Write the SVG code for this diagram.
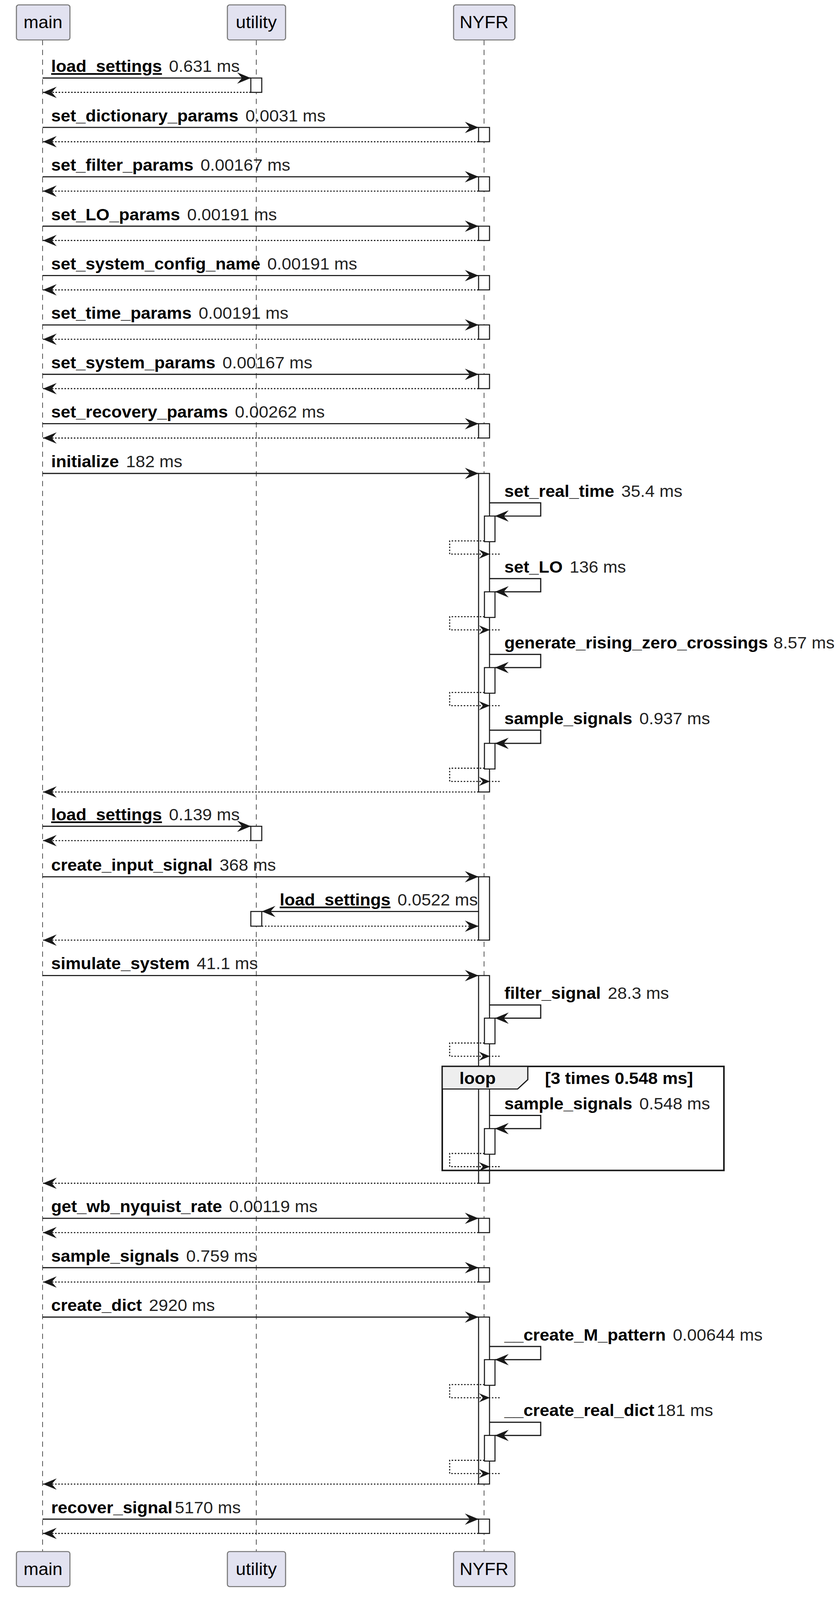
<svg xmlns="http://www.w3.org/2000/svg" width="2145" height="4250" viewBox="0 0 2145 4250">
<style>
.part{fill:#E2E2F0;stroke:#777;stroke-width:2.7}
.pt{font-family:"Liberation Sans",Arial,sans-serif;font-size:46px;fill:#000;text-anchor:middle}
.life{stroke:#555;stroke-width:2;stroke-dasharray:14,12;fill:none}
.act{fill:#fff;stroke:#181818;stroke-width:2.7}
.msg{stroke:#181818;stroke-width:3;fill:none}
.ret{stroke:#181818;stroke-width:2.7;stroke-dasharray:4,4;fill:none}
.lb{font-family:"Liberation Sans",Arial,sans-serif;font-size:44px;fill:#000}
.tm{fill:#222}
.b{font-weight:bold}
.u{text-decoration:underline}
.head{fill:#181818}
</style>
<defs>
<marker id="ah" markerUnits="userSpaceOnUse" markerWidth="40" markerHeight="40" viewBox="-30 -15 32 30" refX="0" refY="0" orient="auto">
<path d="M0,0 L-28,-12 L-18,0 L-28,12 Z" fill="#181818"/>
</marker>
</defs>
<rect width="2145" height="4250" fill="#fff"/>
<g transform="scale(1,0.965)">
<g id="lifelines">
<line class="life" x1="109" y1="106" x2="109" y2="4116"/>
<line class="life" x1="656" y1="106" x2="656" y2="4116"/>
<line class="life" x1="1239" y1="106" x2="1239" y2="4116"/>
</g>
<g id="main"><rect class="part" x="42" y="13" width="137" height="93" rx="6"/><text class="pt" x="110" y="75">main</text>
<rect class="part" x="42" y="4116" width="137" height="93" rx="6"/><text class="pt" x="110" y="4178">main</text></g>
<g id="utility"><rect class="part" x="582" y="13" width="149" height="93" rx="6"/><text class="pt" x="656" y="75">utility</text>
<rect class="part" x="582" y="4116" width="149" height="93" rx="6"/><text class="pt" x="656" y="4178">utility</text></g>
<g id="NYFR"><rect class="part" x="1161" y="13" width="157" height="93" rx="6"/><text class="pt" x="1239" y="75">NYFR</text>
<rect class="part" x="1161" y="4116" width="157" height="93" rx="6"/><text class="pt" x="1239" y="4178">NYFR</text></g>
<g id="activations">
<rect class="act" x="642" y="207" width="28" height="38"/>
<rect class="act" x="1225" y="338" width="28" height="38"/>
<rect class="act" x="1225" y="469" width="28" height="38"/>
<rect class="act" x="1225" y="600" width="28" height="38"/>
<rect class="act" x="1225" y="731" width="28" height="38"/>
<rect class="act" x="1225" y="862" width="28" height="38"/>
<rect class="act" x="1225" y="993" width="28" height="38"/>
<rect class="act" x="1225" y="1124" width="28" height="38"/>
<rect class="act" x="1225" y="1256" width="28" height="845"/>
<rect class="act" x="1240" y="1369" width="27" height="68"/>
<rect class="act" x="1240" y="1570" width="27" height="68"/>
<rect class="act" x="1240" y="1771" width="27" height="68"/>
<rect class="act" x="1240" y="1972" width="27" height="68"/>
<rect class="act" x="642" y="2192" width="28" height="38"/>
<rect class="act" x="1225" y="2326" width="28" height="168"/>
<rect class="act" x="642" y="2418" width="28" height="39"/>
<rect class="act" x="1225" y="2588" width="28" height="551"/>
<rect class="act" x="1240" y="2701" width="27" height="68"/>
<rect class="act" x="1240" y="2994" width="27" height="68"/>
<rect class="act" x="1225" y="3232" width="28" height="38"/>
<rect class="act" x="1225" y="3363" width="28" height="38"/>
<rect class="act" x="1225" y="3494" width="28" height="443"/>
<rect class="act" x="1240" y="3607" width="27" height="68"/>
<rect class="act" x="1240" y="3808" width="27" height="68"/>
<rect class="act" x="1225" y="4030" width="28" height="38"/>
</g>
<g id="loop">
<rect x="1132" y="2829" width="721" height="276" fill="none" stroke="#181818" stroke-width="4"/>
<path d="M1132,2829 H1351 V2864 L1325,2889 H1132 Z" fill="#EEEEEE" stroke="#181818" stroke-width="3"/>
<text class="lb b" x="1176" y="2876">loop</text>
<text class="lb b" x="1395" y="2876">[3 times  0.548 ms]</text>
</g>
<g id="connectors">
<path class="msg" d="M109,207 H642" marker-end="url(#ah)"/><path class="ret" d="M642,245 H110" marker-end="url(#ah)"/>
<path class="msg" d="M109,338 H1225" marker-end="url(#ah)"/><path class="ret" d="M1225,376 H110" marker-end="url(#ah)"/>
<path class="msg" d="M109,469 H1225" marker-end="url(#ah)"/><path class="ret" d="M1225,507 H110" marker-end="url(#ah)"/>
<path class="msg" d="M109,600 H1225" marker-end="url(#ah)"/><path class="ret" d="M1225,638 H110" marker-end="url(#ah)"/>
<path class="msg" d="M109,731 H1225" marker-end="url(#ah)"/><path class="ret" d="M1225,769 H110" marker-end="url(#ah)"/>
<path class="msg" d="M109,862 H1225" marker-end="url(#ah)"/><path class="ret" d="M1225,900 H110" marker-end="url(#ah)"/>
<path class="msg" d="M109,993 H1225" marker-end="url(#ah)"/><path class="ret" d="M1225,1031 H110" marker-end="url(#ah)"/>
<path class="msg" d="M109,1124 H1225" marker-end="url(#ah)"/><path class="ret" d="M1225,1162 H110" marker-end="url(#ah)"/>
<path class="msg" d="M109,1256 H1225" marker-end="url(#ah)"/><path class="ret" d="M1225,2101 H110" marker-end="url(#ah)"/>
<path class="msg" d="M109,2192 H642" marker-end="url(#ah)"/><path class="ret" d="M642,2230 H110" marker-end="url(#ah)"/>
<path class="msg" d="M109,2326 H1225" marker-end="url(#ah)"/><path class="ret" d="M1225,2494 H110" marker-end="url(#ah)"/>
<path class="msg" d="M1225,2418 H670" marker-end="url(#ah)"/><path class="ret" d="M670,2457 H1225" marker-end="url(#ah)"/>
<path class="msg" d="M109,2588 H1225" marker-end="url(#ah)"/><path class="ret" d="M1225,3139 H110" marker-end="url(#ah)"/>
<path class="msg" d="M109,3232 H1225" marker-end="url(#ah)"/><path class="ret" d="M1225,3270 H110" marker-end="url(#ah)"/>
<path class="msg" d="M109,3363 H1225" marker-end="url(#ah)"/><path class="ret" d="M1225,3401 H110" marker-end="url(#ah)"/>
<path class="msg" d="M109,3494 H1225" marker-end="url(#ah)"/><path class="ret" d="M1225,3937 H110" marker-end="url(#ah)"/>
<path class="msg" d="M109,4030 H1225" marker-end="url(#ah)"/><path class="ret" d="M1225,4068 H110" marker-end="url(#ah)"/>
<path class="msg" d="M1253,1334 H1384 V1369 H1267" marker-end="url(#ah)"/>
<path class="ret" d="M1240,1435 H1151 V1470 H1279"/><path class="head" d="M1254,1470 L1226,1458 L1236,1470 L1226,1482 Z"/>
<path class="msg" d="M1253,1535 H1384 V1570 H1267" marker-end="url(#ah)"/>
<path class="ret" d="M1240,1636 H1151 V1671 H1279"/><path class="head" d="M1254,1671 L1226,1659 L1236,1671 L1226,1683 Z"/>
<path class="msg" d="M1253,1736 H1384 V1771 H1267" marker-end="url(#ah)"/>
<path class="ret" d="M1240,1837 H1151 V1872 H1279"/><path class="head" d="M1254,1872 L1226,1860 L1236,1872 L1226,1884 Z"/>
<path class="msg" d="M1253,1937 H1384 V1972 H1267" marker-end="url(#ah)"/>
<path class="ret" d="M1240,2038 H1151 V2073 H1279"/><path class="head" d="M1254,2073 L1226,2061 L1236,2073 L1226,2085 Z"/>
<path class="msg" d="M1253,2666 H1384 V2701 H1267" marker-end="url(#ah)"/>
<path class="ret" d="M1240,2767 H1151 V2802 H1279"/><path class="head" d="M1254,2802 L1226,2790 L1236,2802 L1226,2814 Z"/>
<path class="msg" d="M1253,2959 H1384 V2994 H1267" marker-end="url(#ah)"/>
<path class="ret" d="M1240,3060 H1151 V3095 H1279"/><path class="head" d="M1254,3095 L1226,3083 L1236,3095 L1226,3107 Z"/>
<path class="msg" d="M1253,3572 H1384 V3607 H1267" marker-end="url(#ah)"/>
<path class="ret" d="M1240,3673 H1151 V3708 H1279"/><path class="head" d="M1254,3708 L1226,3696 L1236,3708 L1226,3720 Z"/>
<path class="msg" d="M1253,3773 H1384 V3808 H1267" marker-end="url(#ah)"/>
<path class="ret" d="M1240,3874 H1151 V3909 H1279"/><path class="head" d="M1254,3909 L1226,3897 L1236,3909 L1226,3921 Z"/>
</g>
<g id="labels">
<text class="lb" x="131" y="191"><tspan class="b u">load_settings</tspan><tspan class="tm" dx="18">0.631 ms</tspan></text>
<text class="lb" x="131" y="322"><tspan class="b">set_dictionary_params</tspan><tspan class="tm" dx="18">0.0031 ms</tspan></text>
<text class="lb" x="131" y="453"><tspan class="b">set_filter_params</tspan><tspan class="tm" dx="18">0.00167 ms</tspan></text>
<text class="lb" x="131" y="584"><tspan class="b">set_LO_params</tspan><tspan class="tm" dx="18">0.00191 ms</tspan></text>
<text class="lb" x="131" y="715"><tspan class="b">set_system_config_name</tspan><tspan class="tm" dx="18">0.00191 ms</tspan></text>
<text class="lb" x="131" y="846"><tspan class="b">set_time_params</tspan><tspan class="tm" dx="18">0.00191 ms</tspan></text>
<text class="lb" x="131" y="977"><tspan class="b">set_system_params</tspan><tspan class="tm" dx="18">0.00167 ms</tspan></text>
<text class="lb" x="131" y="1108"><tspan class="b">set_recovery_params</tspan><tspan class="tm" dx="18">0.00262 ms</tspan></text>
<text class="lb" x="131" y="1239"><tspan class="b">initialize</tspan><tspan class="tm" dx="18">182 ms</tspan></text>
<text class="lb" x="1291" y="1318"><tspan class="b">set_real_time</tspan><tspan class="tm" dx="18">35.4 ms</tspan></text>
<text class="lb" x="1291" y="1519"><tspan class="b">set_LO</tspan><tspan class="tm" dx="18">136 ms</tspan></text>
<text class="lb" x="1291" y="1720"><tspan class="b">generate_rising_zero_crossings</tspan><tspan class="tm" dx="14">8.57 ms</tspan></text>
<text class="lb" x="1291" y="1921"><tspan class="b">sample_signals</tspan><tspan class="tm" dx="18">0.937 ms</tspan></text>
<text class="lb" x="131" y="2176"><tspan class="b u">load_settings</tspan><tspan class="tm" dx="18">0.139 ms</tspan></text>
<text class="lb" x="131" y="2310"><tspan class="b">create_input_signal</tspan><tspan class="tm" dx="18">368 ms</tspan></text>
<text class="lb" x="716" y="2402"><tspan class="b u">load_settings</tspan><tspan class="tm" dx="18">0.0522 ms</tspan></text>
<text class="lb" x="131" y="2571"><tspan class="b">simulate_system</tspan><tspan class="tm" dx="18">41.1 ms</tspan></text>
<text class="lb" x="1291" y="2650"><tspan class="b">filter_signal</tspan><tspan class="tm" dx="18">28.3 ms</tspan></text>
<text class="lb" x="1291" y="2943"><tspan class="b">sample_signals</tspan><tspan class="tm" dx="18">0.548 ms</tspan></text>
<text class="lb" x="131" y="3216"><tspan class="b">get_wb_nyquist_rate</tspan><tspan class="tm" dx="18">0.00119 ms</tspan></text>
<text class="lb" x="131" y="3347"><tspan class="b">sample_signals</tspan><tspan class="tm" dx="18">0.759 ms</tspan></text>
<text class="lb" x="131" y="3478"><tspan class="b">create_dict</tspan><tspan class="tm" dx="18">2920 ms</tspan></text>
<text class="lb" x="1291" y="3556"><tspan class="b">__create_M_pattern</tspan><tspan class="tm" dx="18">0.00644 ms</tspan></text>
<text class="lb" x="1291" y="3757"><tspan class="b">__create_real_dict</tspan><tspan class="tm" dx="6">181 ms</tspan></text>
<text class="lb" x="131" y="4014"><tspan class="b">recover_signal</tspan><tspan class="tm" dx="6">5170 ms</tspan></text>
</g>
</g>
</svg>
